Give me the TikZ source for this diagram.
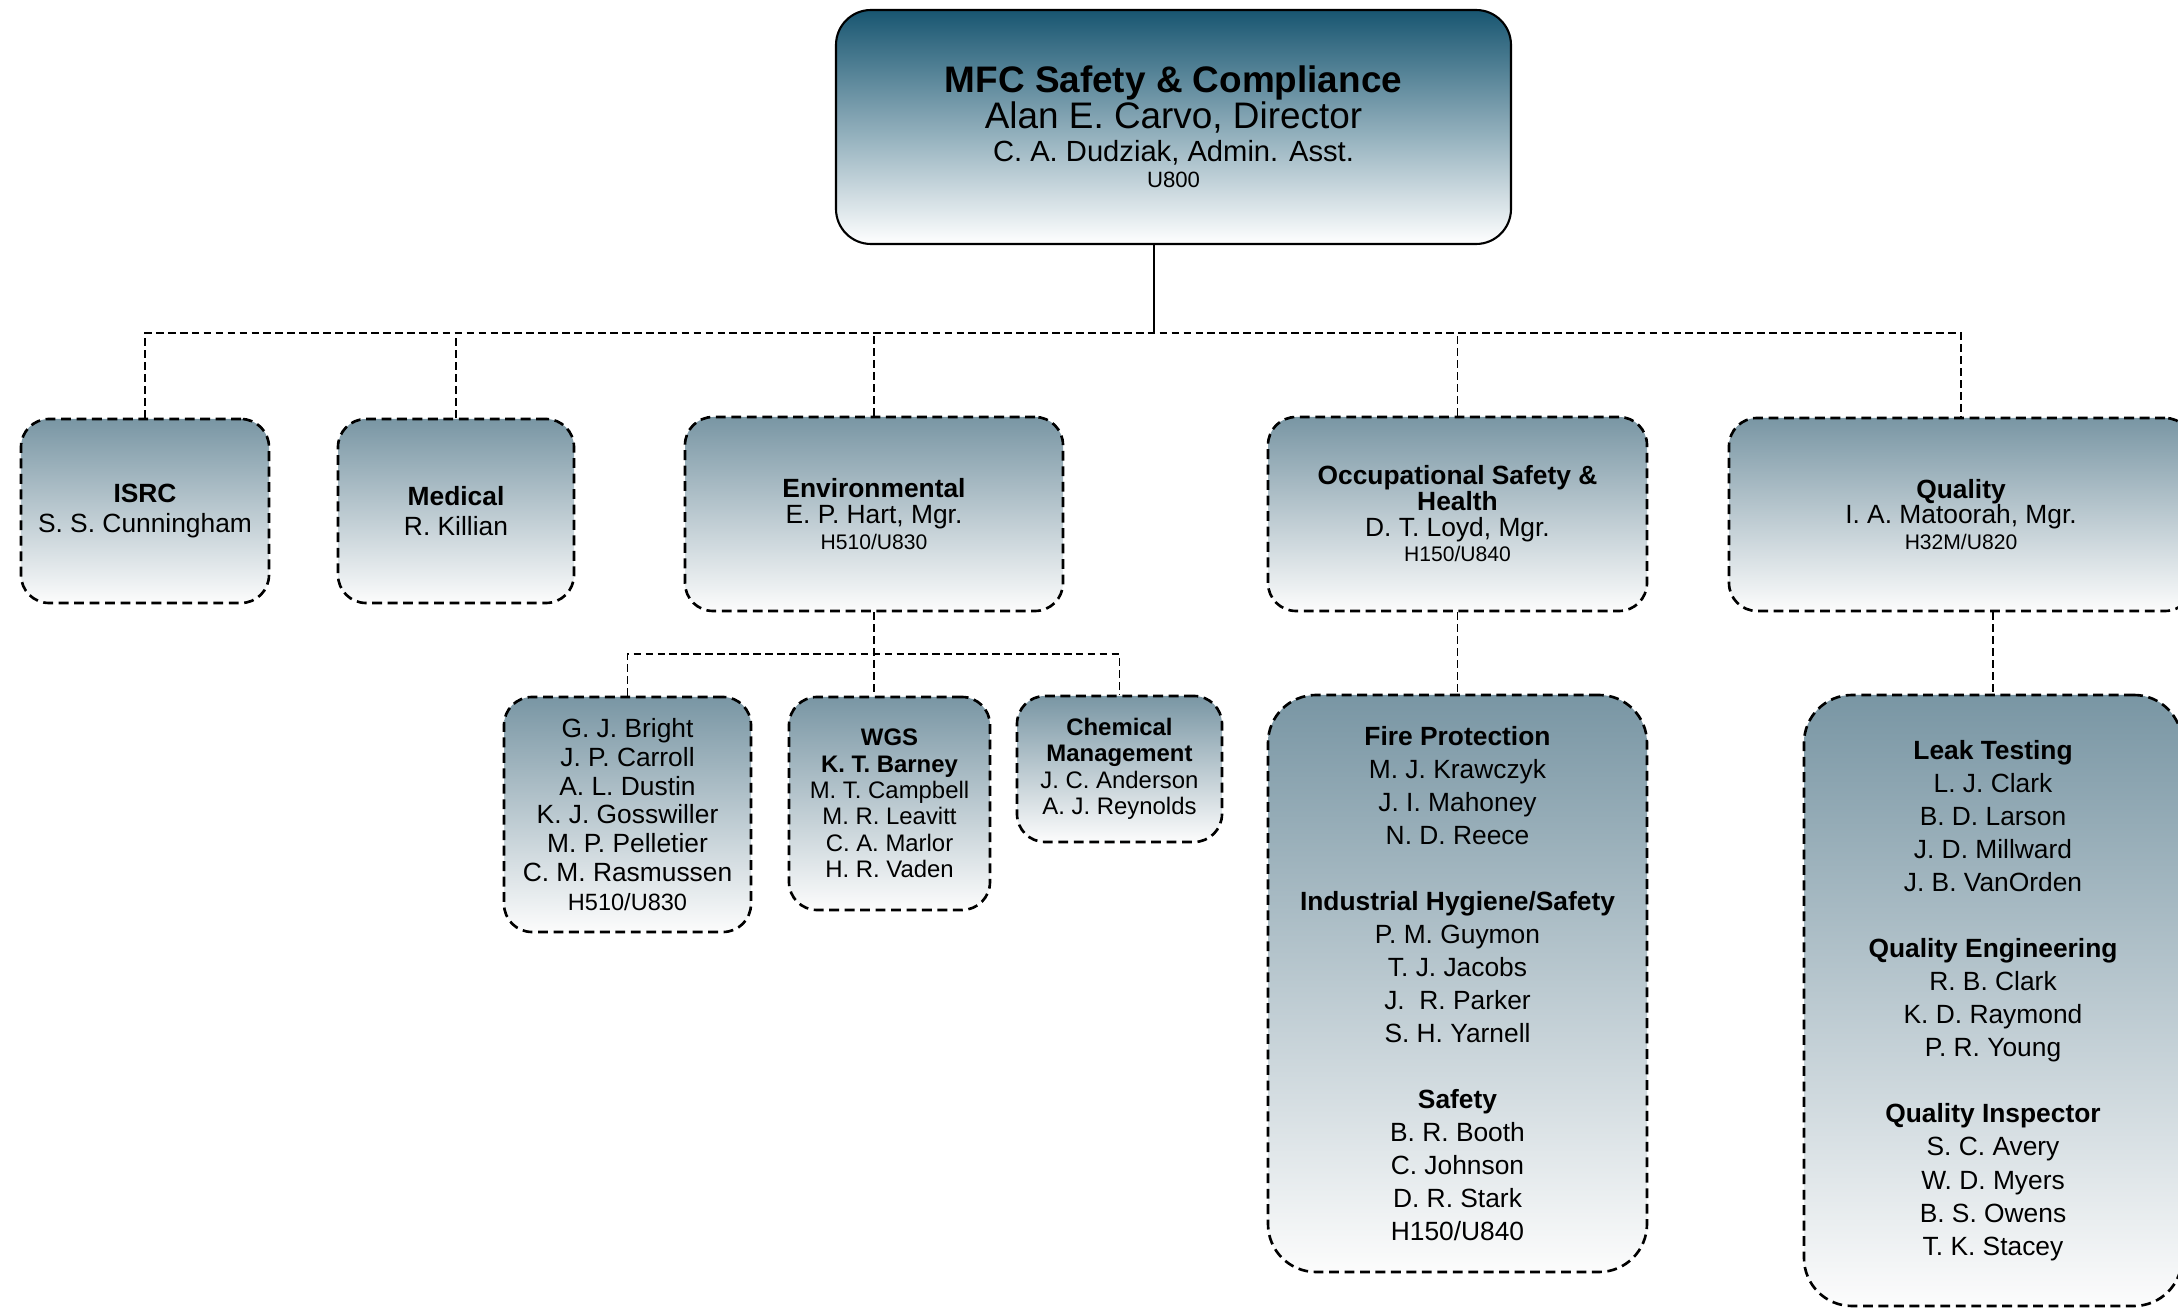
\documentclass[tikz,border=0pt]{standalone}
\usepackage{fontspec}
\setmainfont{Liberation Sans}
\usepackage{tikz}

\definecolor{headteal}{RGB}{24,86,113}
\definecolor{unitgray}{RGB}{121,150,164}
\definecolor{fadewhite}{RGB}{252,252,252}
\newcommand{\setfs}[2]{\fontsize{#1}{#2}\selectfont}

\begin{document}
\begin{tikzpicture}[
  headbox/.style={draw, line width=0.6pt, rounded corners=3.5mm,
    top color=headteal, bottom color=white, align=center, inner sep=0pt},
  unitbox/.style={draw, line width=0.75pt, dash pattern=on 2.8pt off 1.6pt,
    rounded corners=2.8mm, top color=unitgray, bottom color=fadewhite,
    align=center, inner sep=0pt},
  link/.style={line width=0.45pt, dash pattern=on 2.2pt off 1.2pt}
]
  \clip (0,0) rectangle (21.78,-13.08);
  % Director
  \node[headbox, minimum width=6.75cm, minimum height=2.34cm, font=\setfs{10.5}{10.3}]
    (director) at (11.735,-1.27)
    {{\bfseries MFC Safety \& Compliance}\\ Alan E. Carvo, Director\\[-1pt]
     {\setfs{8.3}{9}C. A. Dudziak, Admin. Asst.}\\[-2.8pt] {\setfs{6.3}{7}U800}};
  % Groups
  \node[unitbox, minimum width=2.48cm, minimum height=1.84cm, font=\setfs{7.5}{8.7}]
    (isrc) at (1.45,-5.11) {{\bfseries ISRC}\\ S. S. Cunningham};
  \node[unitbox, minimum width=2.36cm, minimum height=1.84cm, font=\setfs{7.5}{8.7}]
    (medical) at (4.56,-5.11) {{\bfseries Medical}\\ R. Killian};
  \node[unitbox, minimum width=3.78cm, minimum height=1.94cm, font=\setfs{7.5}{7.3}]
    (environ) at (8.74,-5.14)
    {{\bfseries Environmental}\\ E. P. Hart, Mgr.\\ {\setfs{6}{7}H510/U830}};
  \node[unitbox, minimum width=3.79cm, minimum height=1.94cm, font=\setfs{7.5}{7.3}]
    (osh) at (14.575,-5.14)
    {{\bfseries Occupational Safety \&}\\ {\bfseries Health}\\ D. T. Loyd, Mgr.\\
     {\setfs{6}{7}H150/U840}};
  \node[unitbox, minimum width=4.64cm, minimum height=1.93cm, font=\setfs{7.5}{7.3}]
    (quality) at (19.61,-5.145)
    {{\bfseries Quality}\\ I. A. Matoorah, Mgr.\\ {\setfs{6}{7}H32M/U820}};
  % Environmental staff
  \node[unitbox, minimum width=2.47cm, minimum height=2.35cm, font=\setfs{7.5}{8.2}]
    (envstaff) at (6.275,-8.145)
    {G. J. Bright\\ J. P. Carroll\\ A. L. Dustin\\ K. J. Gosswiller\\
     M. P. Pelletier\\ C. M. Rasmussen\\ {\setfs{6.7}{7}H510/U830}};
  \node[unitbox, minimum width=2.01cm, minimum height=2.13cm, font=\setfs{6.8}{7.5}]
    (wgs) at (8.895,-8.035)
    {{\bfseries WGS}\\ {\bfseries K. T. Barney}\\ M. T. Campbell\\ M. R. Leavitt\\
     C. A. Marlor\\ H. R. Vaden};
  \node[unitbox, minimum width=2.05cm, minimum height=1.46cm, font=\setfs{6.8}{7.5}]
    (chem) at (11.195,-7.69)
    {{\bfseries Chemical}\\ {\bfseries Management}\\ J. C. Anderson\\ A. J. Reynolds};
  % Safety staff
  \node[unitbox, rounded corners=4.8mm, minimum width=3.79cm, minimum height=5.77cm,
    font=\setfs{7.5}{9.4}] (fire) at (14.575,-9.835)
    {{\bfseries Fire Protection}\\ M. J. Krawczyk\\ J. I. Mahoney\\ N. D. Reece\\[9.4pt]
     {\bfseries Industrial Hygiene/Safety}\\ P. M. Guymon\\ T. J. Jacobs\\
     J.\ \ R. Parker\\ S. H. Yarnell\\[9.4pt]
     {\bfseries Safety}\\ B. R. Booth\\ C. Johnson\\ D. R. Stark\\ H150/U840};
  % Quality staff
  \node[unitbox, rounded corners=4.8mm, minimum width=3.78cm, minimum height=6.11cm,
    font=\setfs{7.5}{9.4}] (qualsub) at (19.93,-10.005)
    {{\bfseries Leak Testing}\\ L. J. Clark\\ B. D. Larson\\ J. D. Millward\\
     J. B. VanOrden\\[9.4pt]
     {\bfseries Quality Engineering}\\ R. B. Clark\\ K. D. Raymond\\ P. R. Young\\[9.4pt]
     {\bfseries Quality Inspector}\\ S. C. Avery\\ W. D. Myers\\ B. S. Owens\\ T. K. Stacey};
  % Reporting lines
  \coordinate (bus) at (11.54,-3.33);
  \draw[line width=0.6pt] (director.south -| bus) -- (bus);
  \draw[link] (isrc.north) |- (bus) -| (quality.north);
  \foreach \unit in {medical,environ,osh}
    \draw[link] (\unit.north) -- (\unit.north |- bus);
  \coordinate (envbus) at (8.74,-6.54);
  \draw[link] (environ.south) -- (environ.south |- wgs.north);
  \draw[link] (envstaff.north) |- (envbus) -| (chem.north);
  \draw[link] (osh.south) -- (fire.north);
  \draw[link] (qualsub.north |- quality.south) -- (qualsub.north);
\end{tikzpicture}
\end{document}
